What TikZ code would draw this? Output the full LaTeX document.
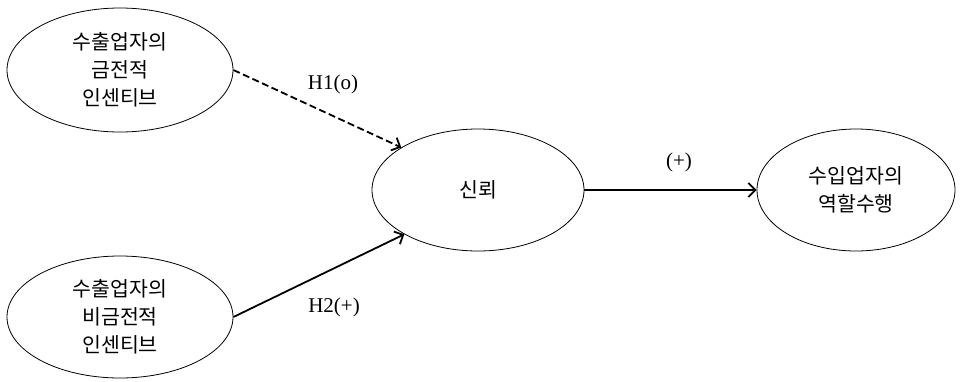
\documentclass[tikz,border=0pt]{standalone}
\usepackage{fontspec}
\setmainfont{Liberation Serif}
\newfontfamily\kr{Noto Sans CJK KR}
\usetikzlibrary{arrows.meta,shapes.geometric}
\begin{document}
\begin{tikzpicture}[x=1pt,y=-1pt,
  ell/.style={draw, line width=0.8pt, ellipse, inner sep=0pt},
  ktext/.style={font=\kr\fontsize{20.5}{28}\selectfont, align=center},
  conn/.style={line width=1.8pt, -{Straight Barb[length=7pt,width=14pt,line width=1.8pt]}},
  lab/.style={font=\fontsize{21}{24}\selectfont}]
\useasboundingbox (0,0) rectangle (963,381);
\node[ell, minimum width=226pt, minimum height=124pt] (a) at (120,70) {};
\node[ktext] (ta) at (a.center) {수출업자의\\금전적\\인센티브};
\node[ell, minimum width=226pt, minimum height=122pt] (b) at (120,317) {};
\node[ktext] (tb) at (b.center) {수출업자의\\비금전적\\인센티브};
\node[ell, minimum width=212pt, minimum height=122pt] (c) at (478,190) {};
\node[ktext] (tc) at (c.center) {신뢰};
\node[ell, minimum width=198pt, minimum height=122pt] (d) at (856,190) {};
\node[ktext] (td) at (d.center) {수입업자의\\역할수행};
\draw[conn, dash pattern=on 7pt off 3.5pt] (a.east) -- (c.151);
\draw[conn] (b.east) -- (c.-149);
\draw[conn] (c.east) -- (d.west);
\node[lab] (l1) at (333,84) {H1(o)};
\node[lab] (l2) at (334,307) {H2(+)};
\node[lab] (l3) at (679,162) {(+)};
\end{tikzpicture}
\end{document}
